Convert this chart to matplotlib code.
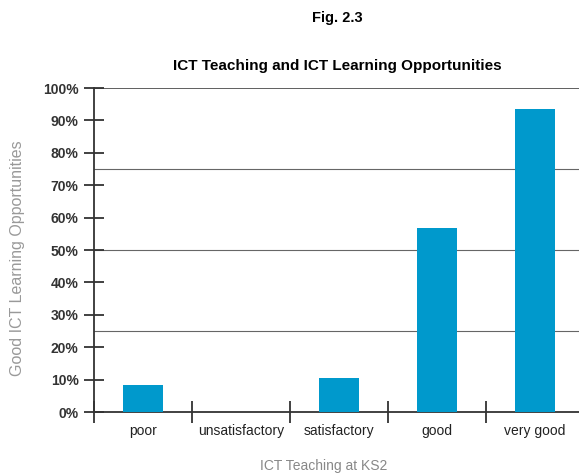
import matplotlib.pyplot as plt
import numpy as np

plt.rcParams['font.family'] = ['Liberation Sans', 'DejaVu Sans']

categories = ["poor", "unsatisfactory", "satisfactory", "good", "very good"]
values = [8.3, 0, 10.5, 56.8, 93.5]
y_ticks = list(range(0, 101, 10))
grid_levels = [25, 50, 75]

fig = plt.figure(figsize=(5.79, 4.76), dpi=100)
ax = fig.add_axes([94 / 579, 1 - 412 / 476, 1 - 94 / 579, (412 - 88) / 476])

x = np.arange(len(categories))
ax.bar(x, values, width=0.41, color='#0099cc', zorder=3)

ax.set_xlim(-0.5, 4.45)
ax.set_ylim(0, 100)

for g in grid_levels:
    ax.axhline(g, color='#666666', lw=0.8, zorder=1)
ax.axhline(100, color='#444444', lw=1.2, zorder=1)

for s in ['top', 'right']:
    ax.spines[s].set_visible(False)
ax.spines['left'].set_color('#333333')
ax.spines['bottom'].set_color('#333333')
ax.spines['left'].set_linewidth(1.3)
ax.spines['bottom'].set_linewidth(1.3)

ax.set_yticks(y_ticks)
ax.set_yticklabels([f"{t}%" for t in y_ticks], fontsize=10, fontweight='bold', color='#333333')
ax.tick_params(axis='y', direction='inout', length=14, width=1.3, color='#333333', pad=4)

ax.set_xticks(x)
ax.set_xticklabels(categories, fontsize=10, color='#222222')
ax.tick_params(axis='x', which='major', length=0, pad=9)
ax.set_xticks(np.arange(-0.5, 4.5, 1.0), minor=True)
ax.tick_params(axis='x', which='minor', direction='inout', length=16, width=1.3, color='#333333')

fig.text(18 / 579, 1 - 258 / 476, "Good ICT Learning Opportunities", rotation=90, ha='center', va='center',
         fontsize=11.5, color='#999999')
fig.text(324 / 579, 1 - 466 / 476, "ICT Teaching at KS2", ha='center', va='center',
         fontsize=10, color='#888888')

fig.text(337 / 579, 1 - 18 / 476, "Fig. 2.3", ha='center', va='center', fontsize=10.5, fontweight='bold')
fig.text(337 / 579, 1 - 66 / 476, "ICT Teaching and ICT Learning Opportunities", ha='center', va='center',
         fontsize=11, fontweight='bold')

fig.savefig("out.png", dpi=100)
